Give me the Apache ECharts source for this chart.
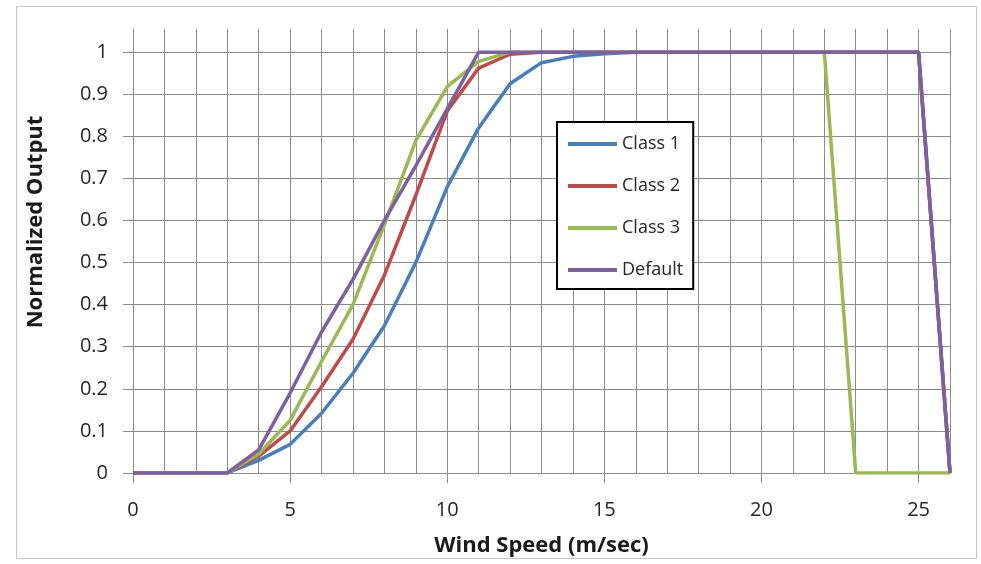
<!DOCTYPE html>
<html>
<head>
<meta charset="utf-8">
<title>Normalized Output vs Wind Speed</title>
<script src="https://cdn.jsdelivr.net/npm/echarts@6/dist/echarts.min.js"></script>
<style>
html,body{margin:0;padding:0;background:#fff;}
#chart{width:981px;height:564px;}
</style>
</head>
<body>
<div id="chart"></div>
<script>
//风速 0..26
var windSpeed=[0,1,2,3,4,5,6,7,8,9,10,11,12,13,14,15,16,17,18,19,20,21,22,23,24,25,26];
var class1=[0,0,0,0,0.03,0.068,0.142,0.237,0.35,0.5,0.68,0.82,0.925,0.975,0.99,0.996,1,1,1,1,1,1,1,1,1,1,0];
var class2=[0,0,0,0,0.04,0.1,0.205,0.318,0.47,0.66,0.86,0.962,0.995,1,1,1,1,1,1,1,1,1,1,1,1,1,0];
var class3=[0,0,0,0,0.045,0.125,0.265,0.4,0.59,0.79,0.918,0.978,1,1,1,1,1,1,1,1,1,1,1,0,0,0,0];
var defaultCurve=[0,0,0,0,0.055,0.19,0.335,0.46,0.6,0.73,0.865,1,1,1,1,1,1,1,1,1,1,1,1,1,1,1,0];
var seriesNames=['Class 1','Class 2','Class 3','Default'];
var xTickLabels=[0,5,10,15,20,25];
var yTickLabels=[0,0.1,0.2,0.3,0.4,0.5,0.6,0.7,0.8,0.9,1];

var colors=['#4A7EBB','#BE4B48','#98B954','#7D60A0'];
var fontName='"Open Sans", "DejaVu Sans", sans-serif';
var gridColor='#8c8c8c';

function pairs(ys){
    var out=[];
    for(var i=0;i<windSpeed.length;i++){
        out.push([windSpeed[i],ys[i]]);
    }
    return out;
}

var allData=[class1,class2,class3,defaultCurve];
var series=[];
for(var i=0;i<seriesNames.length;i++){
    series.push({
        name:seriesNames[i],
        type:'line',
        xAxisIndex:0,
        data:pairs(allData[i]),
        symbol:'none',
        smooth:false,
        z:2+i,
        lineStyle:{color:colors[i],width:3.5},
        itemStyle:{color:colors[i]}
    });
}

var myChart=echarts.init(document.getElementById('chart'),null,{renderer:'canvas'});
var option={
    animation:false,
    backgroundColor:'#fff',
    textStyle:{fontFamily:fontName},
    //外框
    graphic:[{
        type:'rect',
        shape:{x:16.5,y:6.5,width:960,height:552},
        style:{fill:'none',stroke:'#c4c4c4',lineWidth:1},
        silent:true,
        z:-1
    }],
    grid:{left:133,right:31,top:29,bottom:91,containLabel:false},
    legend:{
        orient:'vertical',
        left:557,
        top:122,
        data:seriesNames,
        icon:'rect',
        itemWidth:49,
        itemHeight:4,
        itemGap:22,
        padding:[12,10,9,11],
        borderColor:'#000',
        borderWidth:2,
        backgroundColor:'#fff',
        textStyle:{fontFamily:fontName,fontSize:18,lineHeight:20,color:'#262626'}
    },
    xAxis:[
        //每1个单位的竖向网格线
        {
            type:'value',
            min:0,
            max:26,
            interval:1,
            axisLine:{show:false},
            axisTick:{show:false},
            axisLabel:{show:false},
            splitLine:{show:true,lineStyle:{color:gridColor,width:1}}
        },
        //刻度和标签
        {
            type:'value',
            position:'bottom',
            min:0,
            max:26,
            name:'Wind Speed (m/sec)',
            nameLocation:'middle',
            nameGap:62,
            nameTextStyle:{fontFamily:fontName,fontSize:22,fontWeight:'bold',color:'#1a1a1a'},
            axisLine:{show:true,lineStyle:{color:gridColor,width:1}},
            axisTick:{show:true,inside:false,length:10,customValues:xTickLabels,lineStyle:{color:gridColor}},
            axisLabel:{
                customValues:xTickLabels,
                margin:27,
                fontFamily:fontName,
                fontSize:20,
                color:'#262626'
            },
            splitLine:{show:false}
        }
    ],
    yAxis:{
        type:'value',
        min:0,
        max:1.055,
        interval:0.1,
        name:'Normalized Output',
        nameLocation:'middle',
        nameGap:86,
        nameTextStyle:{fontFamily:fontName,fontSize:22,fontWeight:'bold',color:'#1a1a1a',padding:[0,0,0,58]},
        axisLine:{show:true,lineStyle:{color:gridColor,width:1}},
        axisTick:{show:true,inside:false,length:10,customValues:yTickLabels,lineStyle:{color:gridColor}},
        axisLabel:{
            customValues:yTickLabels,
            margin:25,
            fontFamily:fontName,
            fontSize:20,
            color:'#262626'
        },
        splitLine:{show:true,lineStyle:{color:gridColor,width:1}}
    },
    series:series
};
myChart.setOption(option);
</script>
</body>
</html>
